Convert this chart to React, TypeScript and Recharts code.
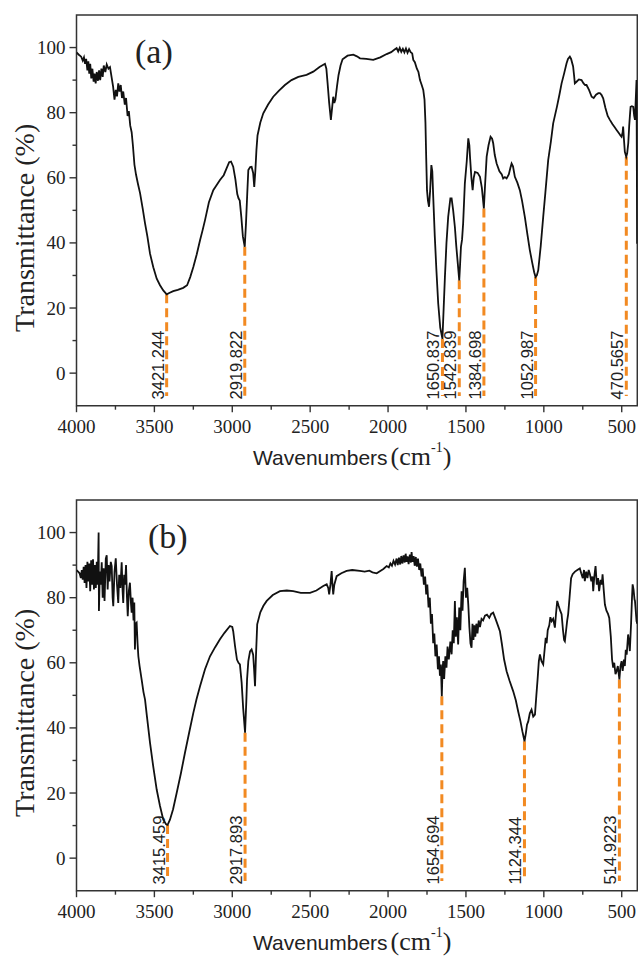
import React from 'react';
import { LineChart, Line, XAxis, YAxis, ReferenceLine, ReferenceArea } from 'recharts';

// ---------- data ----------
const xMajorTicks = [4000, 3500, 3000, 2500, 2000, 1500, 1000, 500];
const xMinorTicks = [3750, 3250, 2750, 2250, 1750, 1250, 750];
const yMajorTicks = [0, 20, 40, 60, 80, 100];
const yMinorTicks = [10, 30, 50, 70, 90];

// spectrum (a): [wavenumber, transmittance]
const spectrumA: [number, number][] = [
  [4000,98.5],[3985,97.8],[3970,97.2],[3960,96],[3952,97],[3945,95],[3938,96.5],[3930,93],[3924,95.8],[3918,92],[3912,95],[3905,90.5],[3898,93.5],[3890,89.5],[3884,92],[3877,89],[3870,92.5],[3862,89.8],[3855,93],[3848,90],[3840,93.5],[3832,91],[3825,94.5],[3815,92.5],[3806,94.8],[3795,93.5],[3785,94],[3775,91],[3765,88],[3756,84],[3748,87],[3740,85],[3732,89],[3724,86.5],[3716,88.5],[3708,84.5],[3700,86.5],[3690,82.5],[3682,84.5],[3672,79],[3664,80.5],[3655,76],[3646,74],[3638,70],[3628,64],[3618,61],[3605,58],[3592,55.3],[3575,50.5],[3560,46],[3545,42],[3528,36.7],[3507,32.5],[3485,29],[3464,27],[3443,25.4],[3421,24.2],[3405,24.6],[3379,25.2],[3350,25.6],[3315,26.2],[3290,27],[3270,29.5],[3250,32.6],[3228,36.5],[3207,40.8],[3190,44],[3175,47],[3150,52.5],[3122,56.2],[3100,57.8],[3079,59.3],[3055,60.8],[3040,62.5],[3020,64.8],[3008,65],[2994,63.4],[2980,59.5],[2968,55],[2960,53.7],[2952,53],[2942,48],[2932,42],[2920,38.8],[2912,46],[2904,55],[2897,62.4],[2885,63.3],[2876,63.4],[2866,61.5],[2859,57.2],[2852,62],[2845,68.5],[2838,73],[2820,77],[2801,79.8],[2770,82.5],[2737,84.9],[2700,86.8],[2662,88.5],[2620,90],[2576,91],[2550,91.3],[2523,91.6],[2480,92.6],[2440,94],[2405,95],[2396,93.5],[2388,89],[2378,83],[2367,77.8],[2358,82],[2352,84.9],[2345,83],[2338,84],[2328,88],[2318,91.5],[2305,94.5],[2292,96.4],[2260,97.5],[2223,97.8],[2200,97.3],[2180,96.7],[2140,96.5],[2095,96.2],[2050,97],[2009,98],[1980,98.6],[1960,99.3],[1945,99.8],[1935,98.8],[1925,99.9],[1915,98.7],[1905,99.6],[1895,98.5],[1885,99.7],[1875,98.4],[1865,99.5],[1855,98.6],[1845,98.2],[1838,96.2],[1828,95.5],[1815,93.5],[1805,92.5],[1795,90],[1784,88.5],[1774,87],[1766,84],[1760,77],[1755,66],[1750,56.2],[1744,53],[1737,51.1],[1730,56],[1722,63.9],[1716,62],[1710,54.2],[1700,42],[1690,32],[1678,21.4],[1665,14],[1651,10.5],[1643,20],[1635,29.5],[1625,40],[1614,48],[1600,53.7],[1592,53.7],[1582,50],[1571,44.9],[1562,39],[1556,35.7],[1543,28.5],[1538,33],[1532,38.8],[1525,41],[1518,46],[1507,58.3],[1495,65],[1485,72.1],[1478,70],[1474,66.5],[1465,60],[1457,56.2],[1450,60],[1442,61.8],[1425,61.5],[1410,60.3],[1398,57],[1385,50.6],[1377,58],[1367,66.5],[1355,70],[1342,72.6],[1332,72],[1325,70.6],[1315,67],[1303,64.4],[1285,62],[1270,61],[1261,59.8],[1250,60.2],[1239,59.8],[1225,61],[1215,63],[1207,64.4],[1198,63.5],[1186,60.3],[1170,58.5],[1154,56.2],[1140,53],[1122,48],[1105,42.5],[1090,37.8],[1075,34],[1062,31],[1053,29.5],[1045,30],[1036,31.6],[1020,39],[1004,48],[990,55.5],[972,65.4],[955,71],[940,76.7],[915,82],[900,85.5],[886,89],[870,92],[854,95.2],[845,96.5],[833,97.2],[825,96.5],[812,94.2],[806,91.5],[801,89],[790,89.5],[775,90.2],[758,90],[745,89],[735,88.5],[726,88.5],[710,87],[693,84.9],[680,84.5],[665,85.5],[650,86],[640,86],[630,85.5],[619,84.4],[605,81.5],[590,79],[576,77.8],[560,76.5],[545,75.5],[533,74.7],[520,73.8],[508,73],[501,72.6],[494,74],[491,75.7],[486,72],[480,68],[471,66.5],[465,67.5],[458,70.6],[452,76],[446,80],[443,81.8],[435,82],[426,81.8],[420,79],[415,77.8],[410,84],[405,90],[403,65],[401,40],[400,40]
];

// spectrum (b): [wavenumber, transmittance]
const spectrumB: [number, number][] = [
  [4000,88.5],[3990,88],[3980,87.5],[3972,86],[3966,88.5],[3960,85.5],[3954,89.5],[3948,84.5],[3942,90],[3936,83],[3930,91],[3924,85],[3918,90.5],[3912,82],[3906,91.5],[3900,84],[3894,91.8],[3888,82.5],[3882,90],[3876,83],[3870,91],[3864,84],[3858,100],[3856,75.9],[3850,88],[3844,84],[3838,90.9],[3832,80],[3826,89],[3820,79],[3812,92],[3806,93],[3800,82.5],[3794,90],[3788,85],[3780,91],[3774,89.7],[3768,80],[3764,77.4],[3756,88],[3748,92.1],[3740,84],[3732,78.4],[3726,87],[3718,83],[3710,90.9],[3704,82],[3700,78.4],[3694,87],[3688,84],[3682,90],[3676,80],[3671,74.3],[3664,82],[3657,84.6],[3650,78],[3646,75.4],[3640,80],[3634,73],[3629,78.5],[3625,64.1],[3620,72],[3614,72.3],[3608,66],[3603,62],[3595,59],[3582,54.9],[3570,51],[3560,48.7],[3549,44],[3528,35.4],[3507,28],[3485,21],[3464,16],[3443,11.8],[3425,10.4],[3415,10.2],[3400,11.8],[3380,15],[3357,20],[3330,26],[3304,32.3],[3277,38.5],[3250,44.6],[3230,48.7],[3207,52.8],[3175,58],[3143,62],[3110,64.8],[3079,67.2],[3050,69.2],[3015,71.3],[3000,71],[2994,69.7],[2982,65],[2970,61],[2960,60],[2951,59.5],[2940,54],[2930,46],[2918,38.5],[2910,48],[2905,55],[2897,60.5],[2886,63.5],[2876,64.1],[2866,62.5],[2860,58],[2854,52.8],[2848,62],[2840,71.8],[2820,75.5],[2800,77.5],[2779,79],[2740,80.8],[2694,82],[2650,82.2],[2609,82],[2560,81.5],[2501,81.5],[2460,82.2],[2416,83.6],[2394,84.1],[2384,83],[2378,81],[2370,84],[2362,88.2],[2357,84],[2352,81],[2345,84],[2330,86.6],[2300,87.5],[2266,88.2],[2230,88.5],[2181,88.2],[2150,88],[2120,88.3],[2100,87.8],[2073,87.5],[2050,88.2],[2030,88.8],[2009,89.7],[1995,89.3],[1985,90.5],[1975,89.8],[1965,91.3],[1955,90.2],[1945,92],[1938,90],[1930,92.3],[1922,90.2],[1915,92.8],[1908,90.5],[1900,93],[1893,90.8],[1887,93.5],[1881,91],[1875,92.7],[1868,90.3],[1860,93.2],[1853,90.8],[1849,94],[1843,91],[1836,92.8],[1829,89.8],[1822,92.5],[1815,89.5],[1808,92],[1800,88.5],[1793,90.5],[1785,86.5],[1778,89],[1770,84],[1762,86.5],[1755,81],[1748,84],[1740,77],[1732,80],[1725,72],[1718,75],[1710,66],[1703,69],[1696,62],[1688,65.6],[1680,58],[1673,62],[1667,56],[1661,59.5],[1655,49.7],[1650,58],[1646,60.5],[1640,55],[1632,62],[1625,58.5],[1618,65],[1610,61],[1600,66.5],[1592,62.6],[1585,70],[1578,66],[1571,79],[1565,68],[1558,74],[1550,65.6],[1543,77],[1536,70],[1528,82],[1522,76],[1515,85],[1507,89.2],[1500,80],[1492,83],[1485,77.9],[1478,71],[1471,66],[1464,64.6],[1458,72],[1452,67],[1446,71.5],[1440,68],[1433,72],[1426,69],[1418,73],[1410,71],[1400,73.5],[1390,73],[1378,74.5],[1365,74.8],[1350,73.8],[1338,75],[1325,75.4],[1310,73.5],[1295,71.5],[1282,69.7],[1270,66],[1255,61],[1239,57.4],[1220,54.5],[1197,51.3],[1180,48.5],[1165,45.1],[1150,42],[1138,39],[1124,35.9],[1115,38.5],[1108,41],[1100,42],[1090,44.5],[1079,45.6],[1068,43.5],[1057,44.1],[1048,50],[1040,55],[1032,60.5],[1025,62.6],[1015,60.5],[1004,59.5],[995,64],[988,67.7],[982,66],[975,70],[965,71.5],[958,74],[950,72.8],[940,73.5],[929,70.8],[922,75],[914,79],[905,77.5],[895,76],[886,74.9],[877,70],[870,67],[865,66.6],[857,70],[850,73],[844,74.9],[835,80],[825,86],[815,87.2],[800,88],[785,88.5],[769,89],[760,87.5],[750,86],[742,88.5],[737,85.1],[728,88],[720,86],[712,88.5],[704,87.2],[695,85],[688,86.5],[683,82],[676,86.5],[668,89.7],[660,84],[652,86],[645,82],[636,85.5],[628,84],[623,87.2],[615,82],[608,77.9],[598,76],[588,75],[580,73.8],[570,68],[562,61],[555,58.5],[548,60],[540,56.5],[533,57.4],[525,59],[515,54.9],[508,59],[501,60.5],[494,57.5],[486,61],[480,59],[474,64],[468,62.5],[459,68.7],[452,66],[448,63.6],[440,72],[434,80],[430,84.1],[424,82.5],[418,79.5],[415,79],[410,76],[405,72.8],[400,72]
];

const peaksA = [3421.244, 2919.822, 1650.837, 1542.839, 1384.698, 1052.987, 470.5657];
const peakValsA = [24.2, 38.8, 10.5, 28.5, 50.6, 29.5, 66.5];
const peakLabelsA = ['3421.244', '2919.822', '1650.837', '1542.839', '1384.698', '1052.987', '470.5657'];

const peaksB = [3415.459, 2917.893, 1654.694, 1124.344, 514.9223];
const peakValsB = [10.2, 38.5, 49.7, 35.9, 54.9];
const peakLabelsB = ['3415.459', '2917.893', '1654.694', '1124.344', '514.9223'];

const xTitle = 'Wavenumbers';
const xUnit = '(cm';
const xUnitSup = '-1';
const yTitle = 'Transmittance (%)';

// ---------- styles ----------
const SERIF = '"Liberation Serif", "Times New Roman", serif';
const SANS = '"Liberation Sans", Arial, sans-serif';
const AXIS = '#333';
const ORANGE = '#F28A22';
const TEXT = '#222';

const xTicks = [...xMajorTicks, ...xMinorTicks].sort((a, b) => b - a);
const yTicks = [...yMajorTicks, ...yMinorTicks].sort((a, b) => a - b);

const XTick = (props: any) => {
  const { x, y, payload } = props;
  const major = xMajorTicks.includes(payload.value);
  return (
    <g>
      <line x1={x} x2={x} y1={y} y2={y + (major ? 6.5 : 4)} stroke={AXIS} strokeWidth={1.4} />
      {major && (
        <text x={x} y={y + 27} textAnchor="middle" fontFamily={SERIF} fontSize={19} fill={TEXT}>
          {payload.value}
        </text>
      )}
    </g>
  );
};

const YTick = (props: any) => {
  const { x, y, payload } = props;
  const major = yMajorTicks.includes(payload.value);
  return (
    <g>
      <line x1={x} x2={x - (major ? 7 : 4)} y1={y} y2={y} stroke={AXIS} strokeWidth={1.4} />
      {major && (
        <text x={x - 11} y={y + 6.5} textAnchor="end" fontFamily={SERIF} fontSize={19} fill={TEXT}>
          {payload.value}
        </text>
      )}
    </g>
  );
};

type PanelProps = {
  spectrum: [number, number][];
  peaks: number[];
  peakVals: number[];
  peakLabels: string[];
  letter: string;
  letterDx: number;
  height: number;
  marginTop: number;
  xAxisHeight: number;
};

const Panel = ({ spectrum, peaks, peakVals, peakLabels, letter, letterDx, height, marginTop, xAxisHeight }: PanelProps) => {
  const data = spectrum.map(([w, t]) => ({ w, t }));
  return (
    <LineChart
      width={638}
      height={height}
      data={data}
      margin={{ top: marginTop, right: 0.7, bottom: 0, left: 0 }}
    >
      <XAxis
        dataKey="w"
        type="number"
        domain={[400, 4000]}
        reversed
        allowDataOverflow
        ticks={xTicks}
        interval={0}
        tickSize={0}
        tickMargin={0}
        tickLine={false}
        axisLine={false}
        height={xAxisHeight}
        tick={XTick}
        label={(p: any) => {
          const vb = p.viewBox || {};
          return (
            <text x={253} y={(vb.y || 0) + 59} fill={TEXT}>
              <tspan fontFamily={SANS} fontSize={21}>{xTitle}</tspan>
              <tspan fontFamily={SERIF} fontSize={26} dx={3}>{xUnit}</tspan>
              <tspan fontFamily={SERIF} fontSize={14} dy={-13}>{xUnitSup}</tspan>
              <tspan fontFamily={SERIF} fontSize={26} dy={13}>)</tspan>
            </text>
          );
        }}
      />
      <YAxis
        type="number"
        domain={[-10, 110]}
        allowDataOverflow
        ticks={yTicks}
        interval={0}
        tickSize={0}
        tickMargin={0}
        tickLine={false}
        axisLine={false}
        width={76.5}
        tick={YTick}
        label={(p: any) => {
          const vb = p.viewBox || {};
          const cy = (vb.y || 0) + (vb.height || 0) / 2 + 17.5;
          return (
            <text
              x={0}
              y={0}
              transform={`translate(33.5, ${cy}) rotate(-90)`}
              textAnchor="middle"
              fontFamily={SERIF}
              fontSize={28}
              fill={TEXT}
            >
              {yTitle}
            </text>
          );
        }}
      />
      {peaks.map((p, i) => (
        <ReferenceLine
          key={p}
          segment={[{ x: p, y: peakVals[i] }, { x: p, y: -7 }]}
          stroke={ORANGE}
          strokeWidth={3}
          strokeDasharray="9 5"
          ifOverflow="visible"
          label={(lp: any) => {
            const vb = lp.viewBox || {};
            const bx = (vb.x || 0) - 3;
            const by = (vb.y || 0) + (vb.height || 0) + 3.5;
            return (
              <text
                x={bx}
                y={by}
                transform={`rotate(-90, ${bx}, ${by})`}
                textAnchor="start"
                fontFamily={SANS}
                fontSize={16.5}
                fill={TEXT}
              >
                {peakLabels[i]}
              </text>
            );
          }}
        />
      ))}
      <Line
        dataKey="t"
        type="linear"
        stroke="#111"
        strokeWidth={1.8}
        dot={false}
        activeDot={false}
        isAnimationActive={false}
      />
      <ReferenceArea
        x1={400}
        x2={4000}
        y1={-10}
        y2={110}
        fill="none"
        fillOpacity={0}
        stroke={AXIS}
        strokeWidth={1.5}
        ifOverflow="visible"
        label={(lp: any) => {
          const vb = lp.viewBox || {};
          return (
            <text x={(vb.x || 0) + letterDx} y={(vb.y || 0) + 48} fontFamily={SERIF} fontSize={34} fill={TEXT}>
              {letter}
            </text>
          );
        }}
      />
    </LineChart>
  );
};

export default function App() {
  return (
    <div style={{ position: 'absolute', left: 0, top: 0, width: 638, height: 956, background: '#fff' }}>
      <div style={{ position: 'absolute', left: 0, top: 0 }}>
        <Panel
          spectrum={spectrumA}
          peaks={peaksA}
          peakVals={peakValsA}
          peakLabels={peakLabelsA}
          letter="(a)"
          letterDx={58.5}
          height={480}
          marginTop={15}
          xAxisHeight={74.3}
        />
      </div>
      <div style={{ position: 'absolute', left: 0, top: 480 }}>
        <Panel
          spectrum={spectrumB}
          peaks={peaksB}
          peakVals={peakValsB}
          peakLabels={peakLabelsB}
          letter="(b)"
          letterDx={71.5}
          height={476}
          marginTop={20}
          xAxisHeight={65.3}
        />
      </div>
    </div>
  );
}
